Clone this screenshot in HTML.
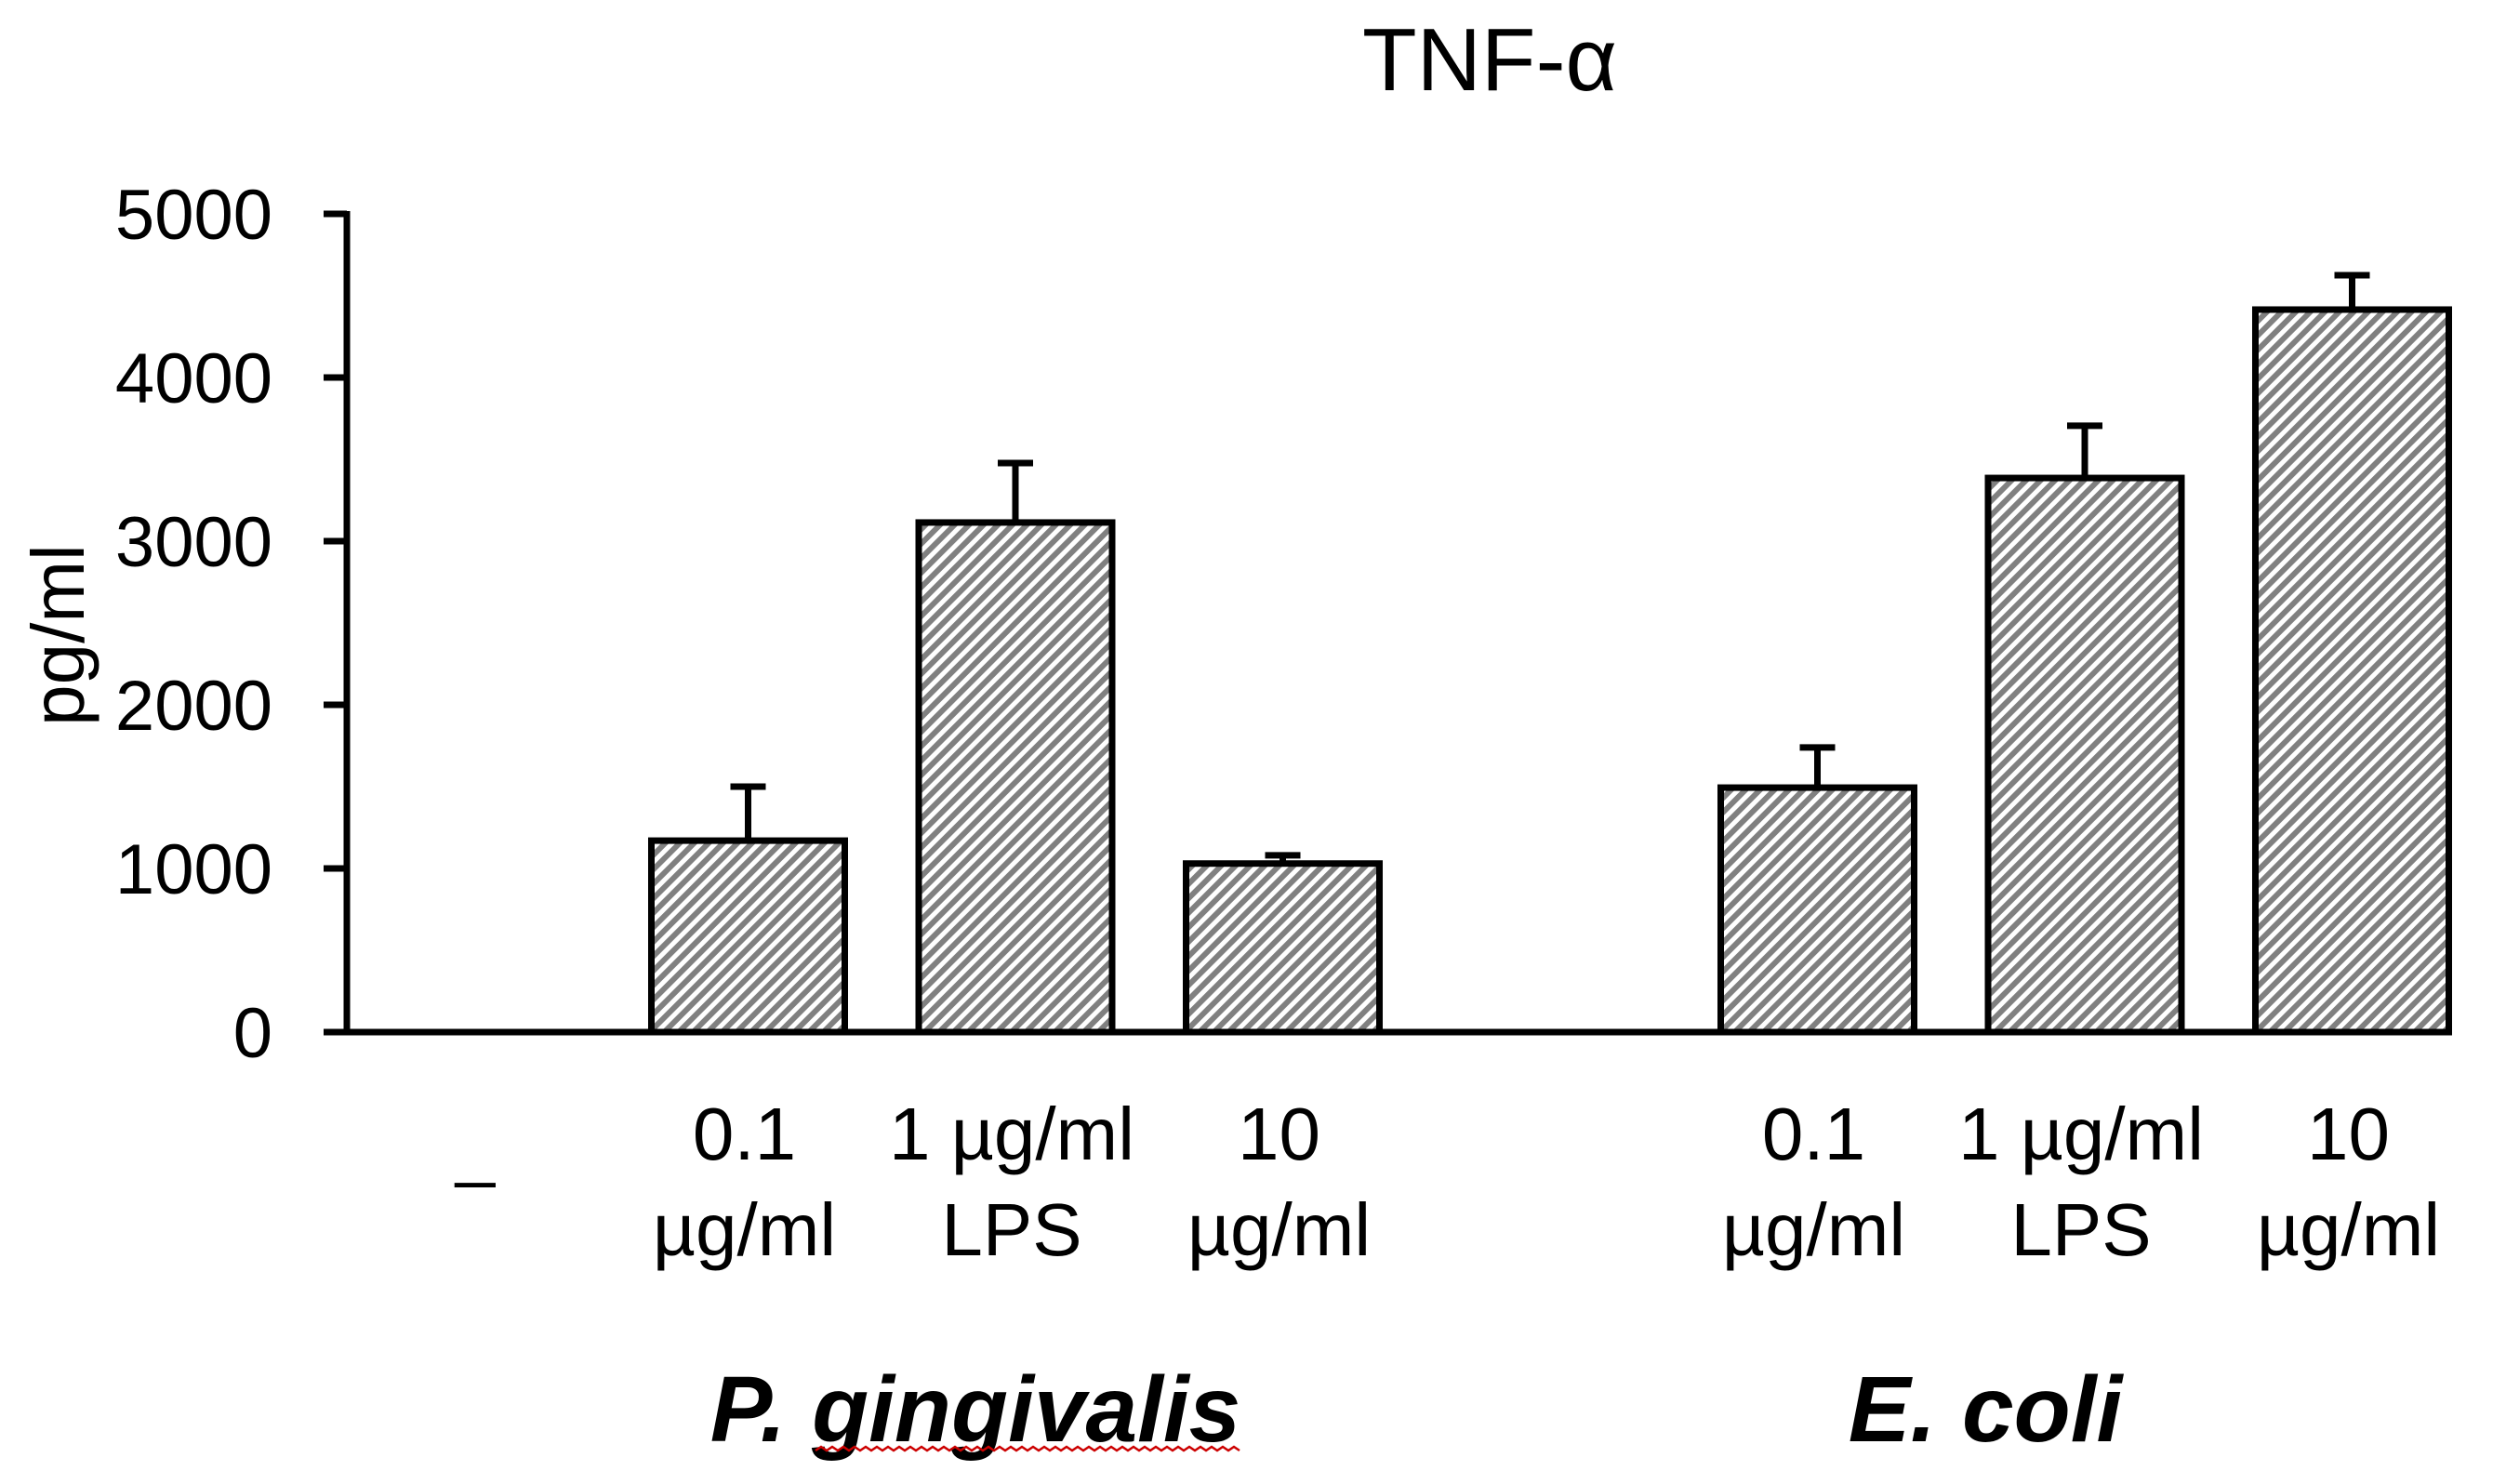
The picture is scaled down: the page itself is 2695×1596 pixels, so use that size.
<!DOCTYPE html>
<html><head><meta charset="utf-8"><style>
html,body{margin:0;padding:0;background:#fff;}
svg{display:block;font-family:"Liberation Sans",sans-serif;}
</style></head><body>
<svg id="chart" width="2695" height="1596" viewBox="0 0 2695 1596">
<defs>
<pattern id="hatch" patternUnits="userSpaceOnUse" width="11" height="11" patternTransform="rotate(-45)">
<rect width="11" height="11" fill="#fff"/>
<rect width="11" height="6" fill="#808080"/>
</pattern>
</defs>
<text x="1602" y="97" font-size="96" text-anchor="middle">TNF-α</text>
<text transform="translate(90,683) rotate(-90)" font-size="80" text-anchor="middle">pg/ml</text>
<g id="axes"></g>
<g id="bars"></g>
<g id="labels"></g>
<text x="1049" y="1550" font-size="100" font-weight="bold" font-style="italic" text-anchor="middle">P. gingivalis</text>
<path id="squig" fill="none" stroke="#c00" stroke-width="2.5"/>
<text x="2135" y="1550" font-size="100" font-weight="bold" font-style="italic" text-anchor="middle">E. coli</text>
</svg>
<script>
const categories = ["–", "0.1 µg/ml", "1 µg/ml LPS", "10 µg/ml", "", "0.1 µg/ml", "1 µg/ml LPS", "10 µg/ml"];
const catLine1 = ["–", "0.1", "1 µg/ml", "10", "", "0.1", "1 µg/ml", "10"];
const catLine2 = ["", "µg/ml", "LPS", "µg/ml", "", "µg/ml", "LPS", "µg/ml"];
const values = [0, 1170, 3114, 1030, null, 1494, 3386, 4415];
const errors = [0, 330, 363, 50, null, 245, 319, 210];
const yTicks = [0, 1000, 2000, 3000, 4000, 5000];

const NS = "http://www.w3.org/2000/svg";
const y0 = 1110, yMaxPx = 230, yMax = 5000;
function yScale(v){ return y0 - (v / yMax) * (y0 - yMaxPx); }
const slot0 = 413, slotW = 287.5, barW = 208;
function xScale(i){ return slot0 + slotW * i; }
function mk(tag, attrs, parent){
  const e = document.createElementNS(NS, tag);
  for (const k in attrs) e.setAttribute(k, attrs[k]);
  parent.appendChild(e); return e;
}
let d = "M877 1560";
for (let x = 877; x < 1333; x += 12) d += " l6 -4 l6 4";
document.getElementById('squig').setAttribute('d', d);

const axes = document.getElementById('axes');
const bars = document.getElementById('bars');
const labels = document.getElementById('labels');

yTicks.forEach(t => {
  const y = yScale(t);
  const tk = mk('line', {x1: 348, x2: 373, y1: y, y2: y, stroke: '#000', 'stroke-width': 7}, axes);
  
  
  const tl = mk('text', {x: 293, y: y + 27, 'font-size': 76, 'text-anchor': 'end'}, axes);
  tl.textContent = t;
  
  
});
const ya = mk('line', {x1: 373, x2: 373, y1: yMaxPx - 3, y2: y0 + 3, stroke: '#000', 'stroke-width': 7}, axes);



values.forEach((v, i) => {
  if (v === null) return;
  const x = xScale(i), cx = x + barW / 2;
  if (v > 0) {
    const top = yScale(v), et = yScale(v + errors[i]);
    const el = mk('line', {x1: cx, x2: cx, y1: top, y2: et, stroke: '#000', 'stroke-width': 7}, bars);
    
    
    const cap = mk('line', {x1: cx - 19, x2: cx + 19, y1: et, y2: et, stroke: '#000', 'stroke-width': 7}, bars);
    
    
    const r = mk('rect', {x: x, y: top, width: barW, height: y0 - top, fill: 'url(#hatch)', stroke: '#000', 'stroke-width': 7}, bars);
    
    
  }
  if (i === 0) {
    const dd = mk('text', {x: cx - 6, y: 1262, 'font-size': 76, 'text-anchor': 'middle'}, labels);
    dd.textContent = '_';
    
    
  } else {
    const l1 = mk('text', {x: cx - 4, y: 1247, 'font-size': 80, 'text-anchor': 'middle'}, labels);
    l1.textContent = catLine1[i];
    
    
    const l2 = mk('text', {x: cx - 4, y: 1350, 'font-size': 80, 'text-anchor': 'middle'}, labels);
    l2.textContent = catLine2[i];
    
    
  }
});
const xa = mk('line', {x1: 348, x2: 2636, y1: y0, y2: y0, stroke: '#000', 'stroke-width': 7}, axes);


</script>
</body></html>
